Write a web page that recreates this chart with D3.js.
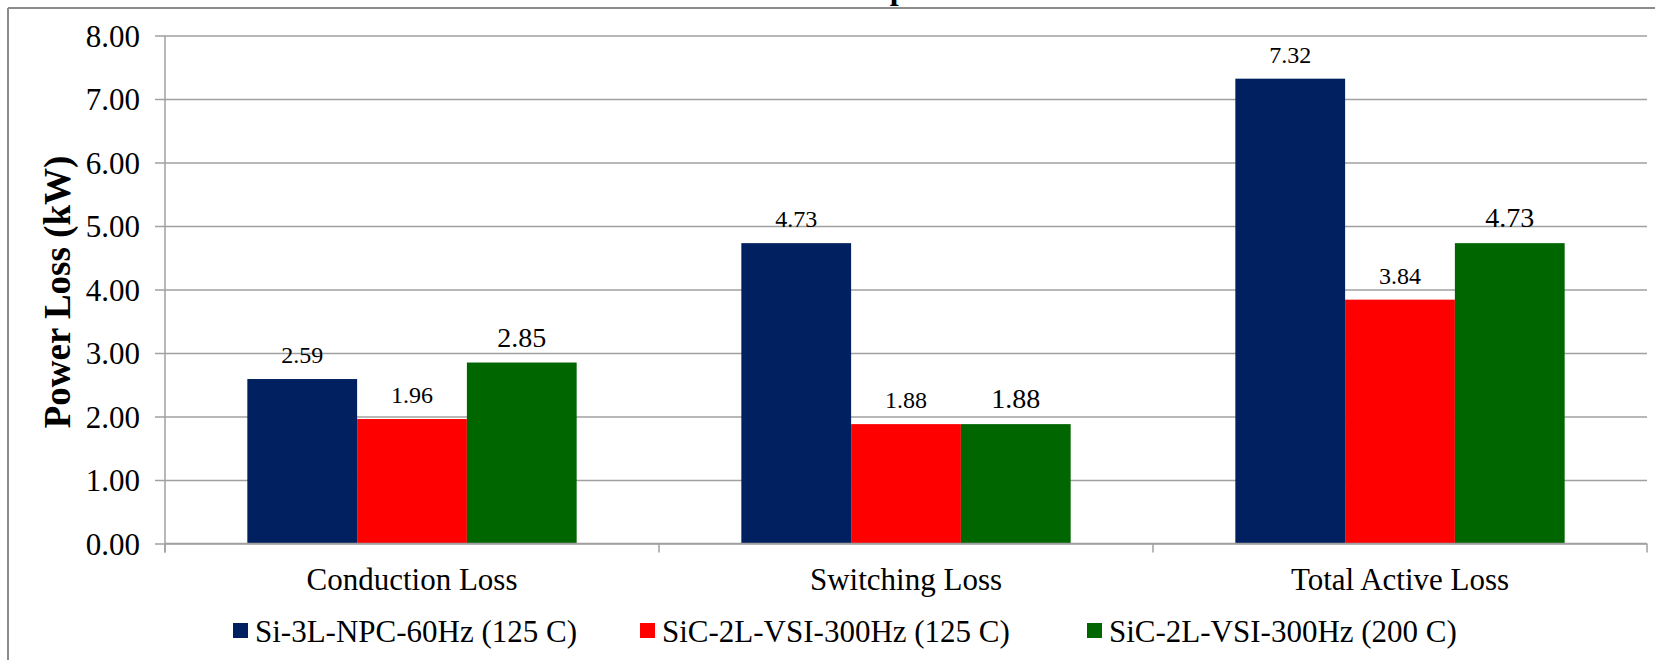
<!DOCTYPE html>
<html>
<head>
<meta charset="utf-8">
<script src="https://cdn.jsdelivr.net/npm/d3@7"></script>
<style>
  html, body { margin: 0; padding: 0; background: #fff; }
  svg { display: block; }
  text { font-family: "Liberation Serif", "Times New Roman", serif; fill: #000; }
</style>
</head>
<body>
<svg id="chart" width="1655" height="660"></svg>
<script>
const categories = ["Conduction Loss", "Switching Loss", "Total Active Loss"];
const seriesNames = ["Si-3L-NPC-60Hz (125 C)", "SiC-2L-VSI-300Hz (125 C)", "SiC-2L-VSI-300Hz (200 C)"];
const si3lNpc60 = [2.59, 4.73, 7.32];
const sic2lVsi125 = [1.96, 1.88, 3.84];
const sic2lVsi200 = [2.85, 1.88, 4.73];
const yTickValues = [0, 1, 2, 3, 4, 5, 6, 7, 8];
const seriesColors = ["#002060", "#FF0000", "#006600"];
const labelSizes = [24, 24, 28];
const titleText = "Power Loss Comparison";
const yTitle = "Power Loss (kW)";

const seriesValues = [si3lNpc60, sic2lVsi125, sic2lVsi200];
const table = categories.map((c, i) => ({
  category: c,
  values: seriesValues.map((vals, s) => ({ series: s, value: vals[i] }))
}));

const svg = d3.select("#chart");
const W = 1655, H = 660;
const plot = { left: 165, right: 1647, top: 35.5, bottom: 543.5 };

// outer frame (top and left edges visible)
svg.append("line").attr("x1", 8).attr("x2", W).attr("y1", 8).attr("y2", 8)
  .attr("stroke", "#8c8c8c").attr("stroke-width", 2);
svg.append("line").attr("x1", 8).attr("x2", 8).attr("y1", 8).attr("y2", H)
  .attr("stroke", "#8c8c8c").attr("stroke-width", 2);

// clipped title (only descender visible)
svg.append("text").attr("x", 826).attr("y", -1)
  .attr("text-anchor", "middle").attr("font-size", 32).attr("font-weight", "bold")
  .text(titleText);

const y = d3.scaleLinear().domain([0, 8]).range([plot.bottom, plot.top]);
const x0 = d3.scaleBand().domain(categories).range([plot.left, plot.right]).padding(0);
const bw = x0.bandwidth();
const x1 = d3.scaleBand().domain(d3.range(seriesNames.length)).range([bw / 6, bw * 5 / 6]).padding(0);

// gridlines + y axis
const yAxis = d3.axisLeft(y).tickValues(yTickValues).tickFormat(d3.format(".2f"))
  .tickSizeInner(-(plot.right - plot.left)).tickSizeOuter(0).tickPadding(0);
const gy = svg.append("g").attr("transform", `translate(${plot.left},0)`).call(yAxis);
gy.select(".domain").remove();
gy.selectAll(".tick line").attr("stroke", "#a0a0a0").attr("stroke-width", 1.5);
gy.selectAll(".tick").append("line").attr("x1", -10).attr("x2", 0)
  .attr("stroke", "#a0a0a0").attr("stroke-width", 1.5);
gy.selectAll(".tick text").attr("x", -25).attr("dy", "0.34em")
  .attr("font-size", 31).attr("font-family", "Liberation Serif, Times New Roman, serif").attr("fill", "#000");

// vertical axis line
svg.append("line").attr("x1", plot.left).attr("x2", plot.left)
  .attr("y1", plot.top).attr("y2", plot.bottom + 9)
  .attr("stroke", "#a0a0a0").attr("stroke-width", 1.5);

// bars
const groups = svg.append("g").selectAll("g").data(table).join("g")
  .attr("transform", d => `translate(${x0(d.category)},0)`);
groups.selectAll("rect").data(d => d.values).join("rect")
  .attr("x", d => x1(d.series))
  .attr("width", x1.bandwidth())
  .attr("y", d => y(d.value))
  .attr("height", d => y(0) - y(d.value))
  .attr("fill", d => seriesColors[d.series]);

groups.selectAll("text.lbl").data(d => d.values).join("text").attr("class", "lbl")
  .attr("x", d => x1(d.series) + x1.bandwidth() / 2)
  .attr("y", d => y(d.value) - 16)
  .attr("text-anchor", "middle")
  .attr("font-size", d => labelSizes[d.series])
  .text(d => d.value.toFixed(2));

// x axis
const xAxis = d3.axisBottom(x0).tickSize(0).tickPadding(0);
const gx = svg.append("g").attr("transform", `translate(0,${plot.bottom})`).call(xAxis);
gx.select(".domain").remove();
gx.selectAll(".tick text").attr("y", 46).attr("dy", 0)
  .attr("font-size", 31).attr("font-family", "Liberation Serif, Times New Roman, serif").attr("fill", "#000");
svg.append("line").attr("x1", plot.left).attr("x2", plot.right)
  .attr("y1", plot.bottom).attr("y2", plot.bottom)
  .attr("stroke", "#a0a0a0").attr("stroke-width", 1.5);
const sepX = categories.map(c => x0(c)).concat([plot.right]);
svg.append("g").selectAll("line").data(sepX).join("line")
  .attr("x1", d => d).attr("x2", d => d)
  .attr("y1", plot.bottom).attr("y2", plot.bottom + 9)
  .attr("stroke", "#a0a0a0").attr("stroke-width", 1.5);

// y title
svg.append("text")
  .attr("transform", "translate(70,292) rotate(-90)")
  .attr("text-anchor", "middle").attr("font-size", 37).attr("font-weight", "bold")
  .text(yTitle);

// legend
const legendX = [233, 640, 1087];
const leg = svg.append("g").selectAll("g").data(seriesNames).join("g")
  .attr("transform", (d, i) => `translate(${legendX[i]},631)`);
leg.append("rect").attr("x", 0).attr("y", -8).attr("width", 15).attr("height", 15)
  .attr("fill", (d, i) => seriesColors[i]);
leg.append("text").attr("x", 22).attr("y", 11).attr("font-size", 31).text(d => d);
</script>
</body>
</html>
